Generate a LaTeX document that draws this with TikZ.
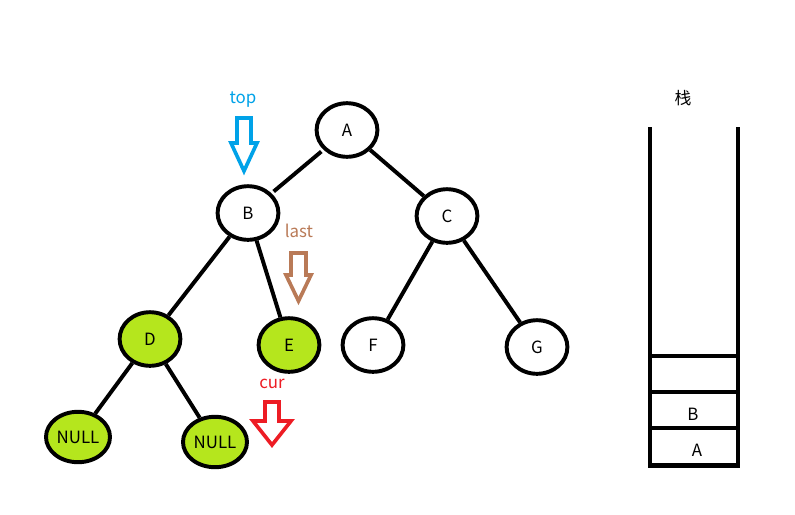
\documentclass[tikz,border=0pt]{standalone}
\usepackage{fontspec}
\setmainfont{Noto Sans CJK SC}
\usepackage{tikz}
\usetikzlibrary{shapes.geometric}
\usepackage{xcolor}
\definecolor{visited}{HTML}{B5E61D}
\definecolor{topc}{HTML}{00A2E8}
\definecolor{lastc}{HTML}{B97A57}
\definecolor{curc}{HTML}{ED1C24}
\tikzset{
  tnode/.style={ellipse, draw, line width=2.8pt, minimum width=1.52cm,
                minimum height=1.34cm, inner sep=0pt, font=\large},
  donenode/.style={tnode, fill=visited},
  nullnode/.style={tnode, fill=visited, minimum width=1.6cm,
                minimum height=1.26cm},
  tedge/.style={line width=2.8pt},
  ptr/.style={line width=2.6pt, line join=miter},
  wall/.style={line width=3.5pt},
  lbl/.style={font=\large},
}
\begin{document}
\begin{tikzpicture}[x=0.025cm, y=-0.025cm]
\useasboundingbox (0,0) rectangle (795,514);
% the tree
\node[tnode] (A) at (347,130) {A};
\node[tnode] (B) at (248,213) {B};
\node[tnode] (C) at (447,216) {C};
\node[donenode] (D) at (150,339) {D};
\node[donenode] (E) at (289,345) {E};
\node[tnode] (F) at (373,345) {F};
\node[tnode] (G) at (537,347) {G};
\node[nullnode] (DL) at (78,437) {NULL};
\node[nullnode] (DR) at (215,442) {NULL};
\draw[tedge, shorten <=2pt, shorten >=2pt] (A) -- (B);
\draw[tedge] (A) -- (C);
\draw[tedge] (B) -- (D);
\draw[tedge] (B) -- (E);
\draw[tedge] (C) -- (F);
\draw[tedge] (C) -- (G);
\draw[tedge] (D) -- (DL);
\draw[tedge] (D) -- (DR);
% pointers
\node[lbl, text=topc] (toplbl) at (243,100) {top};
\draw[ptr, draw=topc] (237,118) -- (251,118) -- (251,143) -- (257,143)
  -- (244,171) -- (231,143) -- (237,143) -- cycle;
\node[lbl, text=lastc] (lastlbl) at (299,231) {last};
\draw[ptr, draw=lastc] (291,253) -- (306,253) -- (306,275) -- (311,275)
  -- (298.5,301) -- (286,275) -- (291,275) -- cycle;
\node[lbl, text=curc] (curlbl) at (272,384) {cur};
\draw[ptr, draw=curc] (265,402) -- (279,402) -- (279,421) -- (291,421)
  -- (272,445) -- (253,421) -- (265,421) -- cycle;
% the stack
\node[lbl] (stk) at (683,98) {栈};
\draw[wall] (650,127) -- (650,465.5) -- (738,465.5) -- (738,127);
\draw[wall] (650,356) -- (738,356);
\draw[wall] (650,392) -- (738,392);
\draw[wall] (650,428) -- (738,428);
\node[lbl] (sB) at (693,414) {B};
\node[lbl] (sA) at (697,450) {A};
\end{tikzpicture}
\end{document}
